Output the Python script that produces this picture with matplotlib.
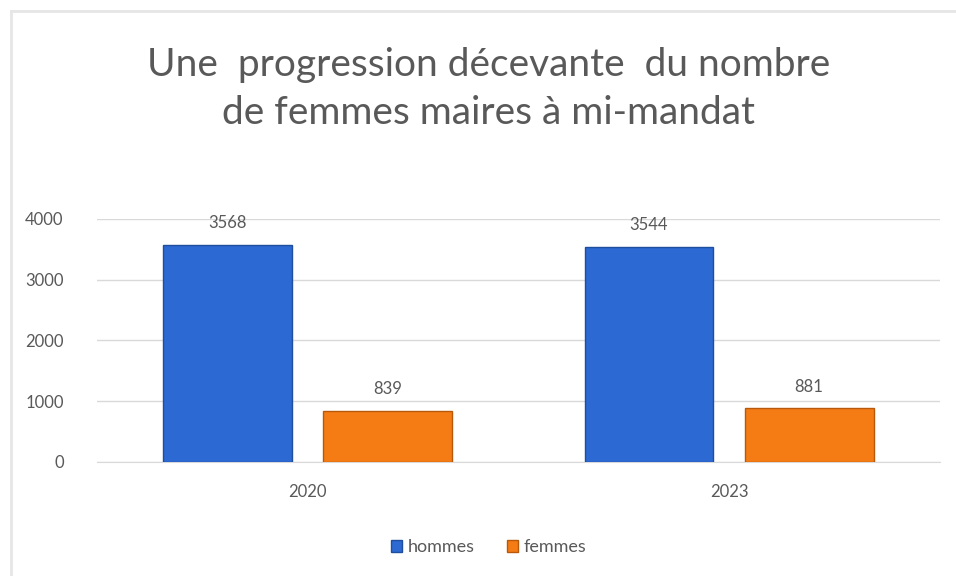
import matplotlib.pyplot as plt
import numpy as np
from matplotlib.lines import Line2D
from matplotlib.patches import Patch

plt.rcParams["font.family"] = ["Lato", "DejaVu Sans"]

years = ["2020", "2023"]
hommes = [3568, 3544]
femmes = [839, 881]
series_names = ["hommes", "femmes"]

text_gray = "#595959"
blue = "#2D69D2"
blue_edge = "#1F4E9E"
orange = "#F57C14"
orange_edge = "#B8580A"

fig = plt.figure(figsize=(9.56, 5.76), dpi=100)
ax = fig.add_axes([0.1015, 0.198, 0.8815, 0.422])

x = np.arange(len(years))
width = 0.306
offset = 0.19

bars_h = ax.bar(x - offset, hommes, width, color=blue, edgecolor=blue_edge,
                linewidth=1.0, zorder=3, label=series_names[0])
bars_f = ax.bar(x + offset, femmes, width, color=orange, edgecolor=orange_edge,
                linewidth=1.0, zorder=3, label=series_names[1])

for bars in (bars_h, bars_f):
    ax.bar_label(bars, padding=10, fontsize=12, color=text_gray)

ax.set_xlim(-0.5, 1.5)
ax.set_ylim(0, 4000)
ax.set_yticks(range(0, 4001, 1000))
ax.set_xticks(x)
ax.set_xticklabels(years)
ax.yaxis.grid(True, color="#d9d9d9", linewidth=1.0, zorder=0)
ax.set_axisbelow(True)
for side in ("top", "right", "left"):
    ax.spines[side].set_visible(False)
ax.spines["bottom"].set_color("#d9d9d9")
ax.tick_params(axis="both", length=0, labelsize=12, labelcolor=text_gray)
ax.tick_params(axis="y", pad=24)
ax.tick_params(axis="x", pad=16)

fig.text(0.511, 0.846, "Une  progression décevante  du nombre\nde femmes maires à mi-mandat",
         ha="center", va="center", fontsize=28, color=text_gray, linespacing=1.42)

handles = [Patch(facecolor=blue, edgecolor=blue_edge),
           Patch(facecolor=orange, edgecolor=orange_edge)]
fig.legend(handles, series_names, loc="center", bbox_to_anchor=(0.511, 0.05),
           ncol=2, frameon=False, fontsize=13, labelcolor=text_gray,
           handlelength=0.6, handleheight=0.6, handletextpad=0.3, columnspacing=1.8)

# light frame on left and top
fig.add_artist(Line2D([0.0115, 0.0115], [0.0, 0.981], color="#e6e6e6", linewidth=2,
                      transform=fig.transFigure))
fig.add_artist(Line2D([0.0115, 1.0], [0.981, 0.981], color="#e6e6e6", linewidth=2,
                      transform=fig.transFigure))

fig.savefig("out.png", dpi=100)
